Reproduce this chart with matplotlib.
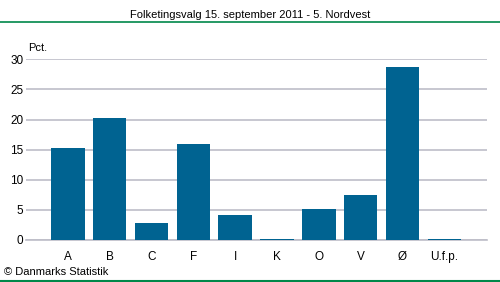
import matplotlib
matplotlib.use("Agg")
import matplotlib.pyplot as plt
from matplotlib.lines import Line2D

categories = ["A", "B", "C", "F", "I", "K", "O", "V", "Ø", "U.f.p."]
values = [15.3, 20.3, 2.9, 16.0, 4.2, 0.2, 5.2, 7.5, 28.8, 0.2]
yticks = [0, 5, 10, 15, 20, 25, 30]

plt.rcParams['font.family'] = ['Liberation Sans', 'DejaVu Sans']

W, H = 500, 282
fig = plt.figure(figsize=(W/100, H/100), dpi=100)
ax = fig.add_axes([26/W, 1-240/H, (487-26)/W, (240-59.3)/H])

bar_color = "#006391"
grid_color = "#BEBEC8"

x = list(range(len(categories)))
ax.bar(x, values, width=0.8, color=bar_color, zorder=3)
ax.set_xlim(-1.0, 10.02)
ax.set_ylim(0, 30)
ax.set_yticks(yticks)
ax.set_yticklabels([str(t) for t in yticks])
ax.set_xticks(x)
ax.set_xticklabels(categories)
ax.yaxis.grid(True, color=grid_color, linewidth=1.2, zorder=0)
for s in ["top", "right", "left"]:
    ax.spines[s].set_visible(False)
ax.spines["bottom"].set_color(grid_color)
ax.spines["bottom"].set_linewidth(1.2)
ax.tick_params(axis="both", length=0, labelsize=8.5, colors="#000000")
ax.tick_params(axis="y", pad=2)
ax.tick_params(axis="x", pad=8)

fig.text(250/W, 1-15/H, "Folketingsvalg 15. september 2011 - 5. Nordvest", ha="center", va="center", fontsize=8)
fig.text(28/W, 1-48/H, "Pct.", ha="left", va="center", fontsize=8)
fig.text(4/W, 1-272/H, "© Danmarks Statistik", ha="left", va="center", fontsize=8)

green = "#00884A"
fig.add_artist(Line2D([0, 1], [1-22/H, 1-22/H], color=green, linewidth=1.2, transform=fig.transFigure))
fig.add_artist(Line2D([0, 1], [1-281/H, 1-281/H], color=green, linewidth=1.5, transform=fig.transFigure))

fig.savefig("out.png", dpi=100)
